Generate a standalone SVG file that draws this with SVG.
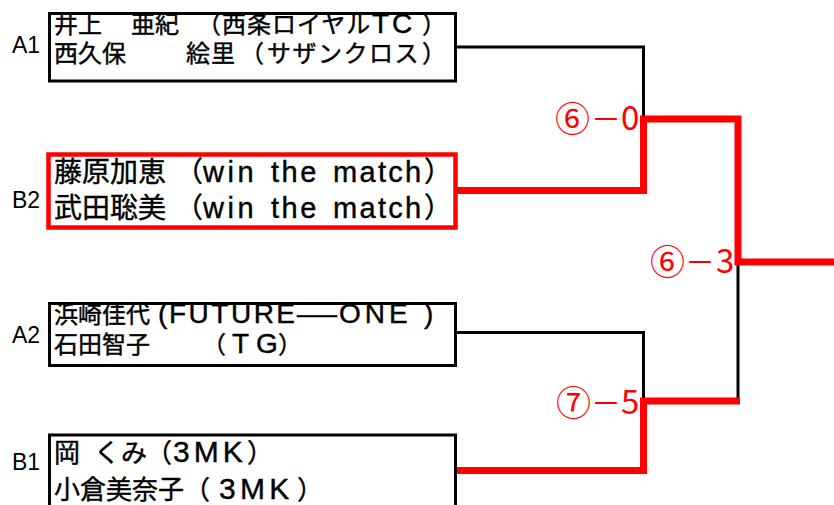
<svg xmlns="http://www.w3.org/2000/svg" width="834" height="505" viewBox="0 0 834 505">
<style>
text{font-family:"Liberation Sans","Noto Sans CJK JP",sans-serif;fill:#000}
.tx{stroke:#000;stroke-width:0.4}
.lbl{font-size:23px}
.box{fill:#fff;stroke:#000;stroke-width:3}
.win{fill:#fff;stroke:#f00;stroke-width:4.5}
.k{fill:none;stroke:#000;stroke-width:3}
.r{fill:none;stroke:#f00;stroke-width:7;stroke-linejoin:miter}
.sc{font-family:"Noto Sans CJK JP",sans-serif;font-size:33px;fill:#f00}
.ci{font-size:35px}
.mi{font-size:30px}
</style>
<rect width="834" height="505" fill="#fff"/>
<g id="connectors">
<path class="k" d="M456,47 H643.5 V117"/>
<path class="k" d="M456,332.5 H643.5 V401"/>
<path class="k" d="M738,262 V401"/>
<path class="r" d="M456,190.5 H643.5 V119 H738 V262 H834"/>
<path class="r" d="M456,470.5 H643.5 V401 H740"/>
</g>
<g id="scores">
<text class="sc"><tspan class="ci" x="555" y="132">⑥</tspan><tspan class="mi" x="591" y="130">－</tspan><tspan x="621">0</tspan></text>
<text class="sc"><tspan class="ci" x="650" y="275">⑥</tspan><tspan class="mi" x="685" y="273">－</tspan><tspan x="716">3</tspan></text>
<text class="sc"><tspan class="ci" x="556" y="416">⑦</tspan><tspan class="mi" x="591" y="414">－</tspan><tspan x="621">5</tspan></text>
</g>
<g id="A1">
<rect class="box" x="49.5" y="13.5" width="406" height="67.5"/>
<text class="lbl" x="12" y="53">A1</text>
<text class="tx" font-size="24" lang="ja"><tspan x="54" y="33">井上　</tspan><tspan x="131">亜紀</tspan><tspan x="197">（</tspan><tspan x="222" letter-spacing="1">西条ロイヤル</tspan><tspan x="372" font-size="28" letter-spacing="3">TC</tspan><tspan x="422">）</tspan></text>
<text class="tx" font-size="24" lang="ja"><tspan x="54" y="62">西久保　</tspan><tspan x="186" letter-spacing="1">絵里</tspan><tspan x="240">（</tspan><tspan x="267" letter-spacing="1.5">サザンクロス</tspan><tspan x="422">）</tspan></text>
</g>
<g id="B2">
<rect class="win" x="48.5" y="154.5" width="407" height="73"/>
<text class="lbl" x="12" y="208">B2</text>
<text class="tx" font-size="28" lang="ja"><tspan x="54" y="182">藤原加恵</tspan><tspan x="175">（</tspan><tspan x="203" font-size="29" letter-spacing="3.5">win</tspan><tspan x="271" font-size="29" letter-spacing="2.5">the</tspan><tspan x="333" font-size="29" letter-spacing="2.3">match</tspan><tspan x="424">）</tspan></text>
<text class="tx" font-size="28" lang="ja"><tspan x="54" y="218">武田聡美</tspan><tspan x="175">（</tspan><tspan x="203" font-size="29" letter-spacing="3.5">win</tspan><tspan x="271" font-size="29" letter-spacing="2.5">the</tspan><tspan x="333" font-size="29" letter-spacing="2.3">match</tspan><tspan x="424">）</tspan></text>
</g>
<g id="A2">
<rect class="box" x="49.5" y="303.5" width="406" height="62"/>
<text class="lbl" x="12" y="343">A2</text>
<text class="tx" font-size="24" lang="ja"><tspan x="54" y="323">浜崎佳代 </tspan><tspan x="158" font-size="28">(</tspan><tspan x="169" font-size="28" letter-spacing="2.5">FUTURE</tspan><tspan x="297" font-size="28" textLength="40" lengthAdjust="spacingAndGlyphs">—</tspan><tspan x="339" font-size="28" letter-spacing="4">ONE</tspan><tspan x="424" font-size="28">)</tspan></text>
<text class="tx" font-size="24" lang="ja"><tspan x="54" y="353">石田智子　　</tspan><tspan x="202">（</tspan><tspan x="232" font-size="28">T</tspan><tspan x="256" font-size="28">G</tspan><tspan x="278">）</tspan></text>
</g>
<g id="B1">
<rect class="box" x="49.5" y="435" width="406" height="100"/>
<text class="lbl" x="12" y="470">B1</text>
<text class="tx" font-size="26" lang="ja"><tspan x="54" y="462">岡</tspan><tspan x="94">くみ</tspan><tspan x="146">（</tspan><tspan x="173" font-size="30" letter-spacing="4">3MK</tspan><tspan x="247">）</tspan></text>
<text class="tx" font-size="26" lang="ja"><tspan x="54" y="499">小倉美奈子</tspan><tspan x="184">（</tspan><tspan x="219" font-size="30" letter-spacing="4.3">3MK</tspan><tspan x="297">）</tspan></text>
</g>
</svg>
